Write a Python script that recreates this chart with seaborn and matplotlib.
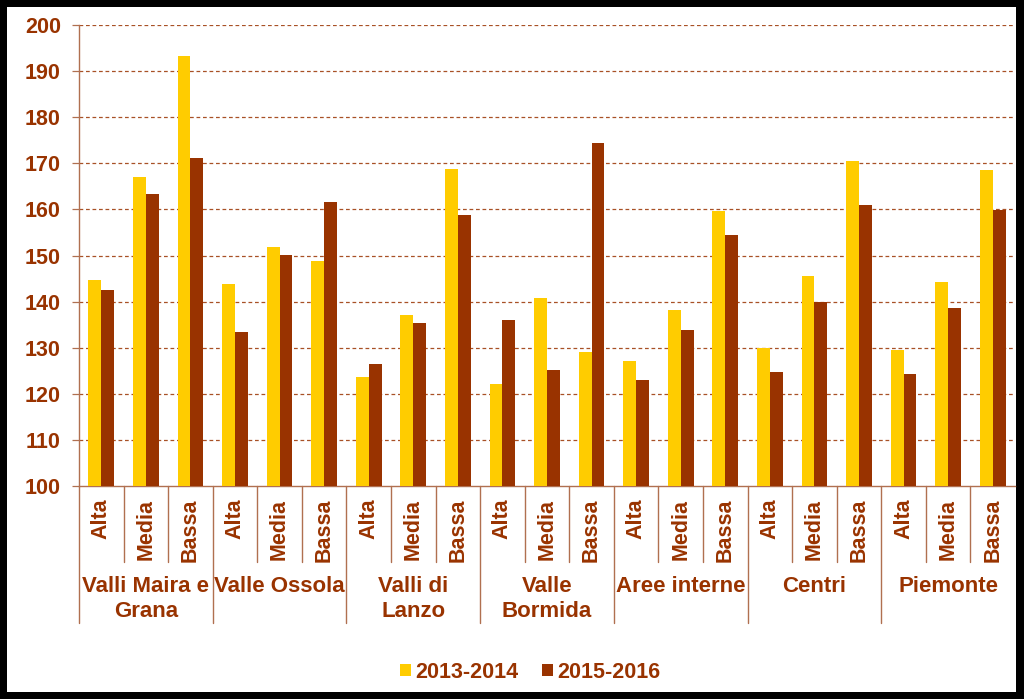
import matplotlib
matplotlib.use("Agg")
import matplotlib.pyplot as plt
import matplotlib.transforms as mtransforms
from matplotlib.patches import Rectangle, Patch
import seaborn as sns
import pandas as pd

groups = ["Valli Maira e\nGrana", "Valle Ossola", "Valli di\nLanzo", "Valle\nBormida",
          "Aree interne", "Centri", "Piemonte"]
levels = ["Alta", "Media", "Bassa"]
periods = ["2013-2014", "2015-2016"]

v_2013_2014 = [144.7, 167.0, 193.2,
               143.8, 151.9, 148.9,
               123.6, 137.0, 168.7,
               122.2, 140.8, 129.1,
               127.1, 138.2, 159.7,
               130.0, 145.6, 170.5,
               129.4, 144.3, 168.5]
v_2015_2016 = [142.5, 163.3, 171.2,
               133.4, 150.2, 161.6,
               126.4, 135.4, 158.8,
               136.0, 125.2, 174.3,
               123.0, 133.8, 154.4,
               124.7, 139.9, 160.9,
               124.4, 138.7, 159.9]

yticks = [100, 110, 120, 130, 140, 150, 160, 170, 180, 190, 200]

YELLOW = "#FFCC00"
BROWN = "#993300"
TXT = "#993300"
LINE = "#B07050"

sns.set_theme(style="white")
plt.rcParams["font.family"] = ["Liberation Sans", "DejaVu Sans"]
plt.rcParams["font.weight"] = "bold"

keys = [f"{g}|{l}" for g in groups for l in levels]
rows = []
for i, k in enumerate(keys):
    rows.append({"key": k, "period": periods[0], "value": v_2013_2014[i]})
    rows.append({"key": k, "period": periods[1], "value": v_2015_2016[i]})
df = pd.DataFrame(rows)

fig = plt.figure(figsize=(10.24, 6.99), dpi=100)
fig.patch.set_facecolor("black")
fig.add_artist(Rectangle((7 / 1024, 7 / 699), 1009 / 1024, 685 / 699,
                         transform=fig.transFigure, facecolor="white",
                         edgecolor="none", zorder=-5))

ax = fig.add_axes([79 / 1024, 1 - 486 / 699, (1015 - 79) / 1024, (486 - 25) / 699])
ax.set_facecolor("white")

sns.barplot(data=df, x="key", y="value", hue="period", order=keys,
            hue_order=periods, palette=[YELLOW, BROWN], width=0.58, gap=0,
            saturation=1, errorbar=None, legend=False, ax=ax, zorder=3,
            linewidth=0, edgecolor="none")

ax.set_ylim(100, 200)
ax.set_xlim(-0.5, len(keys) - 0.5)
ax.set_yticks(yticks)
ax.set_yticklabels([str(t) for t in yticks], fontsize=15.5, fontweight="bold", color=TXT)
ax.set_xlabel("")
ax.set_ylabel("")

for y in yticks[1:]:
    ax.axhline(y, color=BROWN, lw=0.9, ls=(0, (3, 2.2)), zorder=1, alpha=0.85)

for s in ["top", "right"]:
    ax.spines[s].set_visible(False)
ax.spines["left"].set_color(LINE)
ax.spines["bottom"].set_color(LINE)
ax.spines["left"].set_linewidth(1.0)
ax.spines["bottom"].set_linewidth(1.0)

ax.tick_params(axis="y", direction="out", length=5, width=0.9, color=LINE, pad=8, left=True)
ax.tick_params(axis="x", length=0, pad=9)
ax.set_xticks(range(len(keys)))
ax.set_xticklabels([levels[i % 3] for i in range(len(keys))], rotation=90,
                   fontsize=15.5, fontweight="bold", color=TXT, va="top", ha="center")

trans = mtransforms.blended_transform_factory(ax.transData, ax.transAxes)
axh = 461.0
short = -(562 - 486) / axh
long_ = -(623 - 486) / axh
for b in range(len(keys)):
    x = b - 0.5
    y_end = long_ if b % 3 == 0 else short
    ax.plot([x, x], [0, y_end], color=LINE, lw=1.0, transform=trans, clip_on=False)

for gi, g in enumerate(groups):
    ax.text(gi * 3 + 1, -(576 - 486) / axh, g, transform=trans, ha="center", va="top",
            fontsize=16, fontweight="bold", color=TXT, linespacing=1.25, multialignment="center")

handles = [Patch(facecolor=YELLOW, edgecolor="none"), Patch(facecolor=BROWN, edgecolor="none")]
leg = fig.legend(handles, periods, loc="center", ncol=2, frameon=False,
                 bbox_to_anchor=(530 / 1024, 1 - 672 / 699),
                 handlelength=0.5, handleheight=0.5, handletextpad=0.2,
                 columnspacing=1.1, prop={"size": 15.5, "weight": "bold"})
for t in leg.get_texts():
    t.set_color(TXT)

fig.savefig("out.png", dpi=100, facecolor=fig.get_facecolor())
